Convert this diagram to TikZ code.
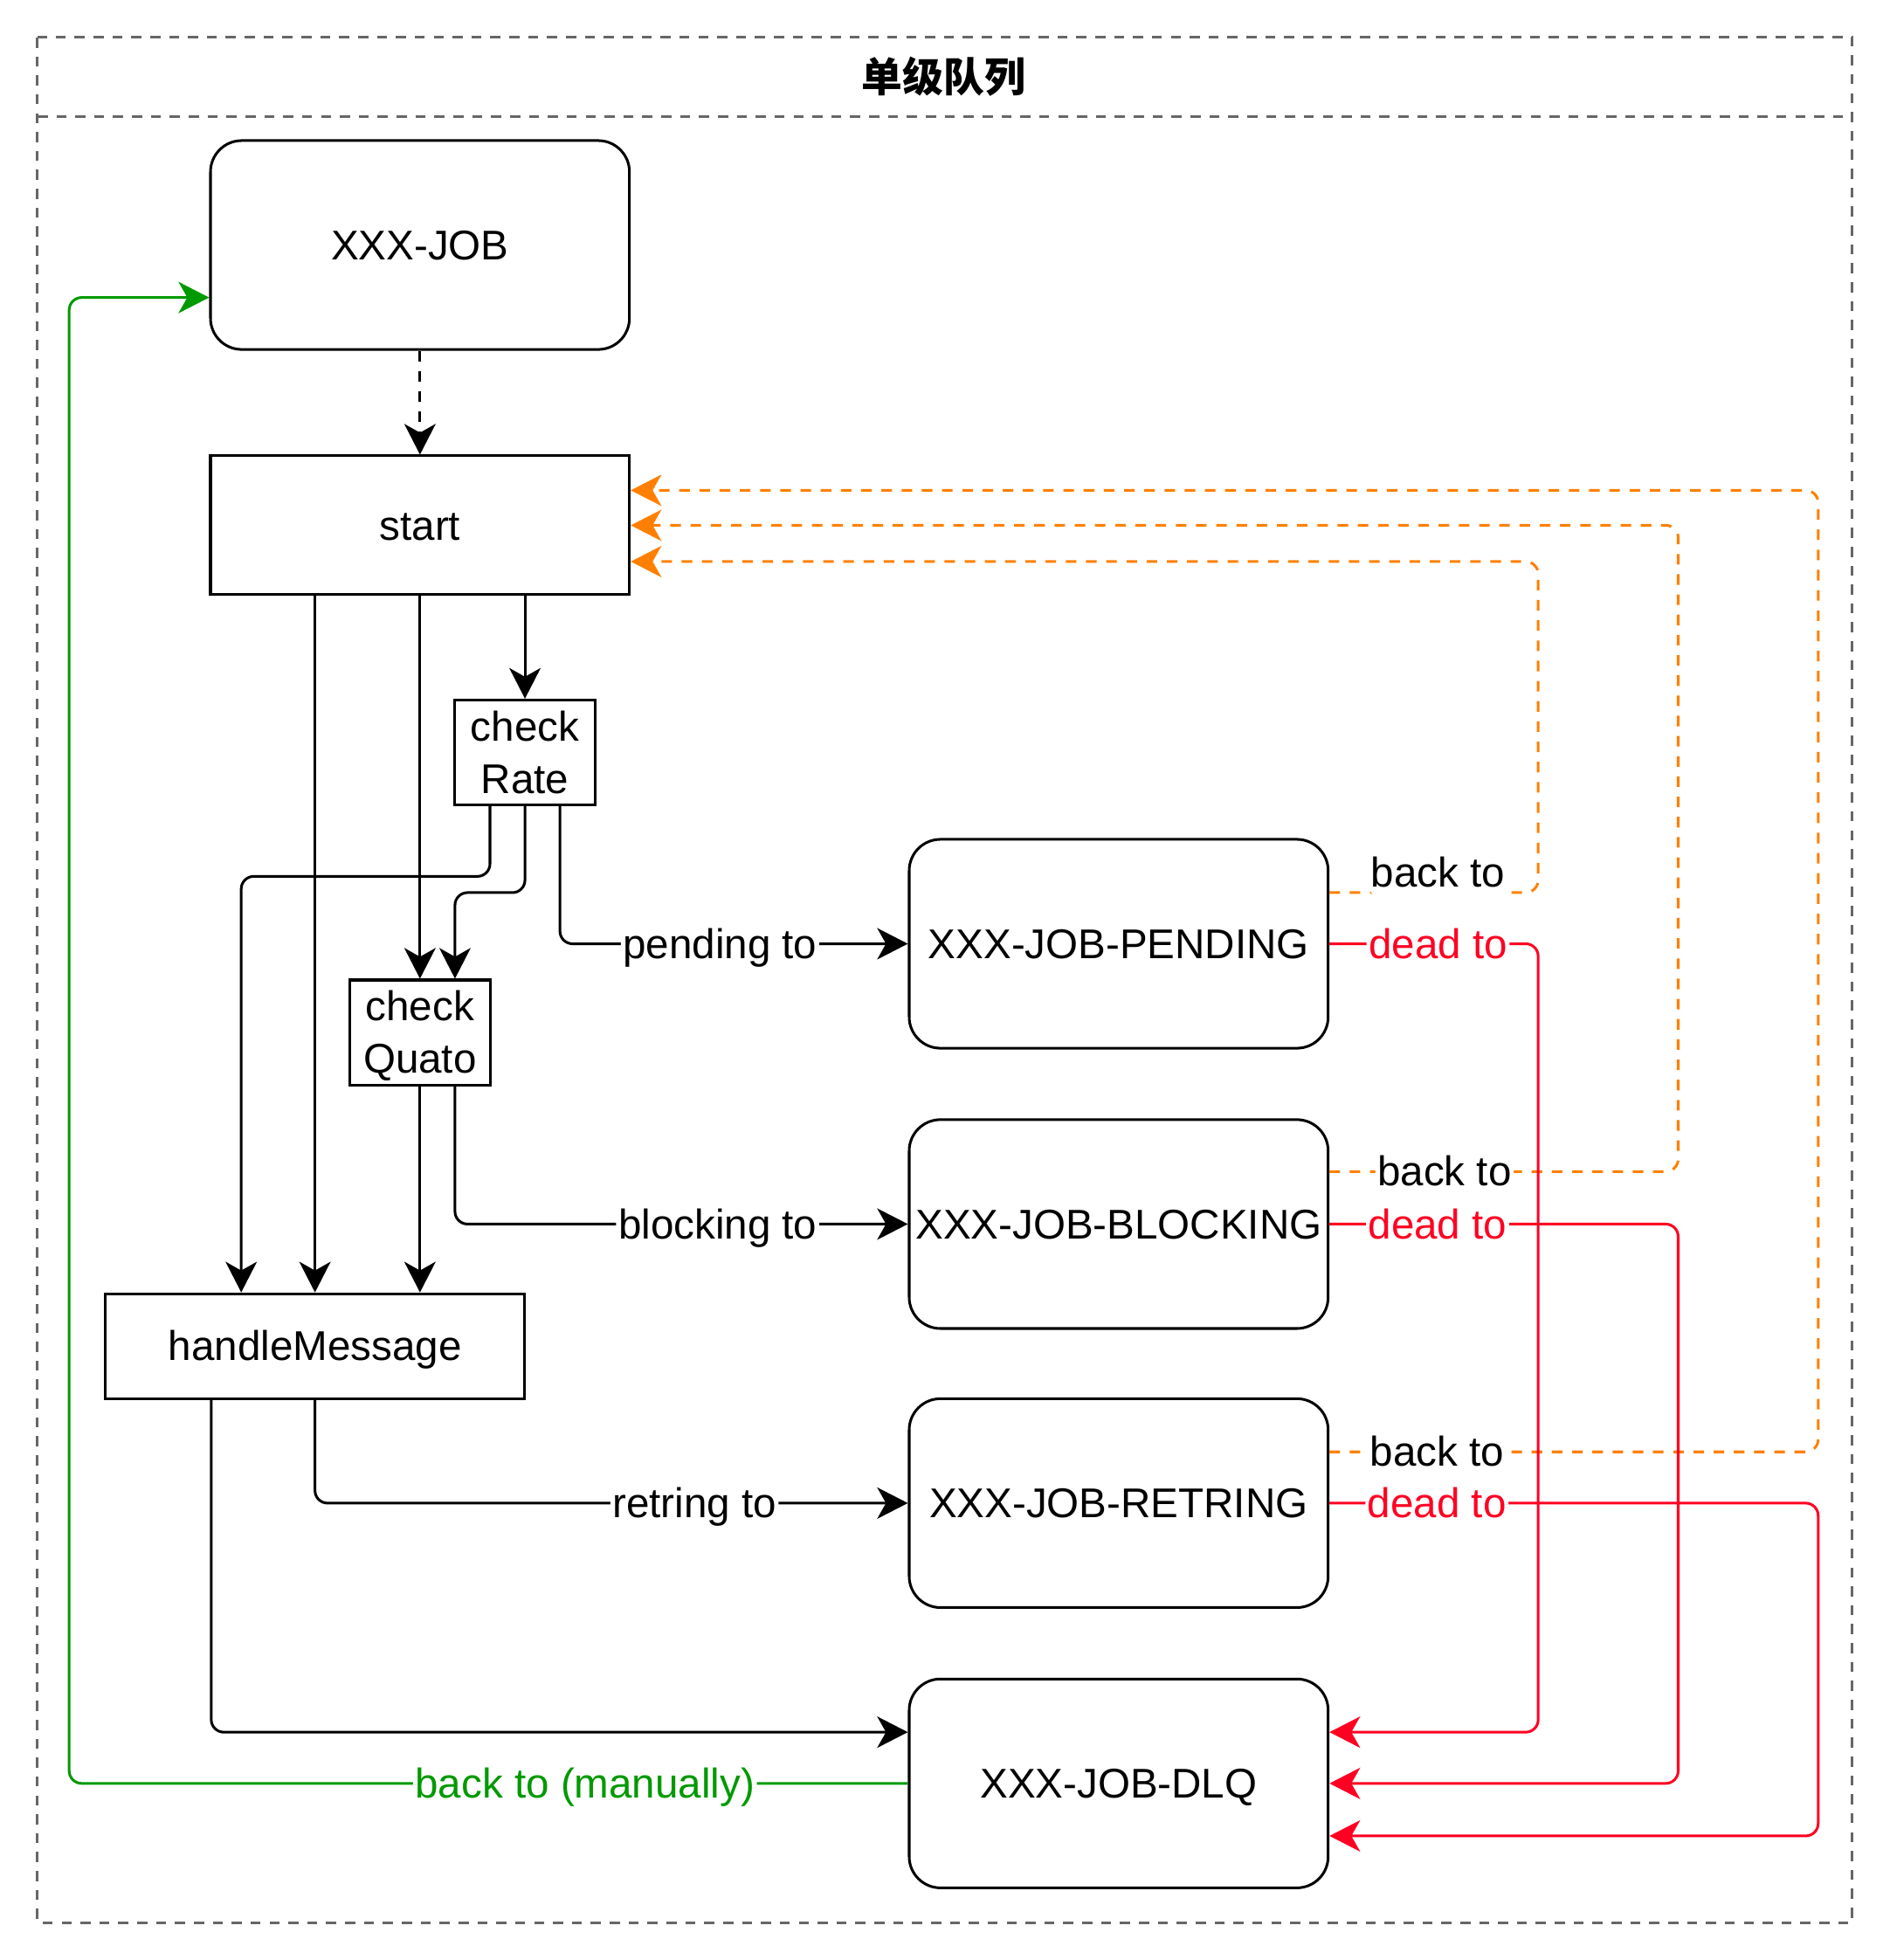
\documentclass[tikz,border=0pt]{standalone}
\usepackage{fontspec}
\setmainfont{Liberation Sans}
\newfontfamily\cjkfont{Noto Sans CJK SC}
\usetikzlibrary{positioning,arrows.meta,calc}

\definecolor{frame_gray}{HTML}{666666}
\definecolor{back_orange}{HTML}{FF8000}
\definecolor{dead_red}{HTML}{FF0022}
\definecolor{manual_green}{HTML}{009900}

% line strut for two-line boxes
\newcommand{\linestrut}{\rule[-1.9pt]{0pt}{10.4pt}}

\begin{document}
\begin{tikzpicture}[
    x=0.01cm, y=-0.01cm,
    every node/.style={font=\fontsize{9.45}{11.9}\selectfont},
    one_line/.style={text height=8.5pt, text depth=1.9pt},
    queue_node/.style={rectangle, draw, one_line, line width=0.6pt, rounded corners=0.25cm, minimum width=3.35cm, minimum height=1.67cm, inner sep=0pt},
    step_node/.style={rectangle, draw, one_line, line width=0.6pt, minimum width=3.35cm, inner sep=0pt},
    check_node/.style={rectangle, draw, line width=0.6pt, minimum width=1.12cm, minimum height=0.84cm, inner sep=0pt, align=center},
    flow/.style={draw, line width=0.6pt, rounded corners=0.1cm, -{Stealth[length=0.245cm, width=0.25cm, inset=0.07cm]}},
    back_flow/.style={flow, draw=back_orange, dash pattern=on 2.4pt off 2.2pt},
    dead_flow/.style={flow, draw=dead_red},
    manual_flow/.style={flow, draw=manual_green},
    edge_label/.style={one_line, fill=white, inner sep=0.5pt}
]
\useasboundingbox (0,0) rectangle (1512,1568);

% Frame with title bar
\draw[frame_gray, line width=0.6pt, dash pattern=on 2.3pt off 2pt] (30,30) rectangle (1482,1538);
\draw[frame_gray, line width=0.6pt, dash pattern=on 2.3pt off 2pt] (30,93) -- (1482,93);
\node[one_line, font={\cjkfont\bfseries\fontsize{9.3}{11.9}\selectfont}] (title) at (755,62) {单级队列};

% Left column
\node[queue_node] (job) at (336,196) {XXX-JOB};
\node[step_node, minimum height=1.11cm, below=0.83cm of job] (start) {start};
\node[check_node] (rate) at (420,602) {\linestrut check\\Rate\linestrut};
\node[check_node] (quota) at (336,826) {\linestrut check\\Quato\linestrut};
\node[step_node, minimum height=0.84cm] (handle) at (252,1077) {handleMessage};

% Right column
\node[queue_node] (pending) at (895,755) {XXX-JOB-PENDING};
\node[queue_node, below=0.55cm of pending] (blocking) {XXX-JOB-BLOCKING};
\node[queue_node, below=0.54cm of blocking] (retring) {XXX-JOB-RETRING};
\node[queue_node, below=0.55cm of retring] (dlq) {XXX-JOB-DLQ};

% Main flow
\draw[flow, dash pattern=on 2.4pt off 2.2pt] (job) -- (start);
\draw[flow] (handle.north |- start.south) -- (handle.north);
\draw[flow] (start.south) -- (quota.north);
\draw[flow] (rate.north |- start.south) -- (rate.north);
\draw[flow] ($(rate.south)+(-28,0)$) -- ++(0,56) -| ($(handle.north)+(-59,0)$);
\draw[flow] (rate.south) -- ++(0,69) -| ($(quota.north)+(28,0)$);
\draw[flow] ($(rate.south)+(28,0)$) |- node[edge_label, pos=0.73] {pending to} (pending.west);
\draw[flow] (quota.south) -- ($(handle.north)+(84,0)$);
\draw[flow] ($(quota.south)+(28,0)$) |- node[edge_label, pos=0.79] {blocking to} (blocking.west);
\draw[flow] (handle.south) |- node[edge_label, pos=0.82] {retring to} (retring.west);
\draw[flow] ($(handle.south)+(-83,0)$) |- ($(dlq.west)+(0,-41)$);

% Back to start
\draw[back_flow] ($(pending.east)+(0,-41)$) -- node[edge_label, pos=0.52, yshift=0.16cm] {back to} ++(167,0) |- ($(start.east)+(0,29)$);
\draw[back_flow] ($(blocking.east)+(0,-42)$) -- node[edge_label, pos=0.33] {back to} ++(279,0) |- (start.east);
\draw[back_flow] ($(retring.east)+(0,-41)$) -- node[edge_label, pos=0.22] {back to} ++(391,0) |- ($(start.east)+(0,-28)$);

% Dead letters
\draw[dead_flow] (pending.east) -- node[edge_label, text=dead_red, pos=0.52] {dead to} ++(167,0) |- ($(dlq.east)+(0,-41)$);
\draw[dead_flow] (blocking.east) -- node[edge_label, text=dead_red, pos=0.31] {dead to} ++(279,0) |- (dlq.east);
\draw[dead_flow] (retring.east) -- node[edge_label, text=dead_red, pos=0.22] {dead to} ++(391,0) |- ($(dlq.east)+(0,42)$);

% Manual replay
\draw[manual_flow] (dlq.west) -- node[edge_label, text=manual_green, pos=0.385] {back to (manually)} ++(-671,0) |- ($(job.west)+(0,42)$);

\end{tikzpicture}
\end{document}
